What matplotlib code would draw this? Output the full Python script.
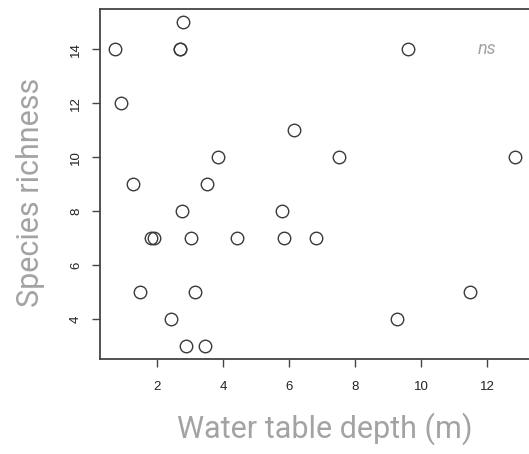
import matplotlib
matplotlib.use("Agg")
import matplotlib.pyplot as plt

# Water table depth (m) and species richness per plot
depth = [0.73, 0.91, 1.28, 2.77, 2.68, 2.68, 3.83, 3.50, 2.76, 1.49, 1.80, 1.90,
         3.03, 4.43, 3.16, 2.43, 2.87, 3.44, 5.84, 6.80, 11.49, 9.27, 9.60,
         6.14, 7.50, 5.78, 12.83]
richness = [14, 12, 9, 15, 14, 14, 10, 9, 8, 5, 7, 7,
            7, 7, 5, 4, 3, 3, 7, 7, 5, 4, 14,
            11, 10, 8, 10]

xticks = [2, 4, 6, 8, 10, 12]
yticks = [4, 6, 8, 10, 12, 14]

fig = plt.figure(figsize=(5.29, 4.54), dpi=100)
ax = fig.add_axes([100 / 529, 95 / 454, 450 / 529, 350 / 454])

ax.plot(depth, richness, linestyle="none", marker="o", markersize=9,
        markerfacecolor="none", markeredgecolor="#3a3a3a", markeredgewidth=1.0)

ax.set_xlim(0.27, 13.9)
ax.set_ylim(2.52, 15.5)
ax.set_xticks(xticks)
ax.set_yticks(yticks)
ax.set_xticklabels([str(v) for v in xticks], family="Liberation Sans", fontsize=9.5)
ax.set_yticklabels([str(v) for v in yticks], family="Liberation Sans", fontsize=9.5,
                   rotation=90, va="center")
ax.tick_params(direction="out", length=6, width=1, color="#444444",
               labelcolor="#222222")
ax.tick_params(axis="x", pad=10)
ax.tick_params(axis="y", pad=7)

for side in ("left", "bottom", "top", "right"):
    ax.spines[side].set_color("#444444")
    ax.spines[side].set_linewidth(1.3)

ax.set_xlabel("Water table depth (m)", family="Roboto",
              fontsize=22, color="#a3a3a3", labelpad=14)
ax.set_ylabel("Species richness", family="Roboto",
              fontsize=22, color="#a3a3a3", labelpad=18)
ax.yaxis.label.set_y(0.475)

ax.text(12.0, 14.0, "ns", family="Roboto", style="italic", fontsize=13,
        color="#a3a3a3", ha="center", va="center")

fig.savefig("out.png", dpi=100)
